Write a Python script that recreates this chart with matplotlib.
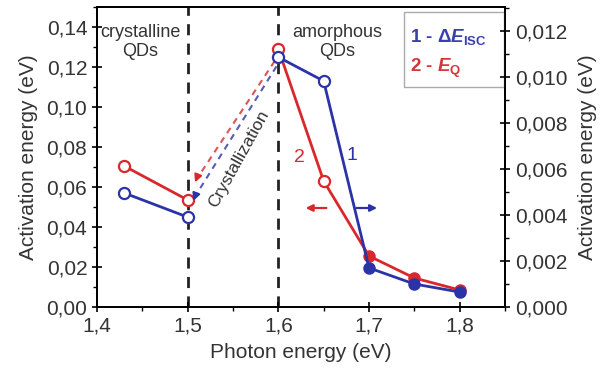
import matplotlib
matplotlib.use("Agg")
import matplotlib.pyplot as plt
import matplotlib.ticker as mticker
from matplotlib.patches import Rectangle

plt.rcParams["font.family"] = ["Liberation Sans", "DejaVu Sans"]
plt.rcParams["mathtext.fontset"] = "custom"
plt.rcParams["mathtext.rm"] = "Liberation Sans:bold"
plt.rcParams["mathtext.it"] = "Liberation Sans:bold:italic"

# data
photon_energy = [1.43, 1.50, 1.60, 1.65, 1.70, 1.75, 1.80]
e_q = [0.0705, 0.0535, 0.129, 0.063, 0.0255, 0.0145, 0.0085]        # left axis, red (2)
de_isc = [0.00496, 0.00391, 0.01087, 0.00983, 0.0017, 0.0010, 0.00065]  # right axis, blue (1)
n_cryst = 2  # crystalline points (1.43, 1.5); rest amorphous
n_open = 4   # first four points drawn as open circles

RED = "#d8282c"
BLUE = "#2c33a6"


def comma(fmt):
    return mticker.FuncFormatter(lambda v, pos: format(v, fmt).replace(".", ","))


def draw_series(a, x, y, color):
    a.plot(x[:n_cryst], y[:n_cryst], color=color, lw=2, zorder=3)
    a.plot(x[n_cryst:], y[n_cryst:], color=color, lw=2, zorder=3)
    a.plot(x[:n_open], y[:n_open], "o", ms=8, mfc="white", mec=color, mew=1.6, zorder=4)
    a.plot(x[n_open:], y[n_open:], "o", ms=8, mfc=color, mec=color, zorder=4)


fig = plt.figure(figsize=(6.04, 3.79), dpi=100)
ax = fig.add_axes([0.1606, 0.19, 0.6755, 0.7915])
ax2 = ax.twinx()

ax.set_xlim(1.4, 1.85)
ax.set_ylim(0, 0.15)
ax2.set_ylim(0, 0.01305)

# vertical phase boundaries
for xv in (1.5, 1.6):
    ax.axvline(xv, color="#222222", lw=2, ls=(0, (4, 3)), zorder=1)

draw_series(ax, photon_energy, e_q, RED)
draw_series(ax2, photon_energy, de_isc, BLUE)

# crystallization arrows (dashed, from 1.6 back to 1.5)
red_end = (1.507, 0.061)
blue_end = (1.505, 0.0045)
ax.plot([photon_energy[2] - 0.004, red_end[0] + 0.003], [e_q[2] - 0.006, red_end[1] + 0.003],
        color=RED, lw=1.5, ls=(0, (3, 2.5)), alpha=0.8, zorder=2)
ax.annotate("", xy=red_end, xytext=(red_end[0] + 0.004, red_end[1] + 0.0045),
            arrowprops=dict(arrowstyle="-|>", color=RED, lw=1.5, mutation_scale=11))
ax2.plot([photon_energy[2] - 0.002, blue_end[0] + 0.003], [de_isc[2] - 0.0004, blue_end[1] + 0.0003],
         color=BLUE, lw=1.5, ls=(0, (3, 2.5)), alpha=0.8, zorder=2)
ax2.annotate("", xy=blue_end, xytext=(blue_end[0] + 0.004, blue_end[1] + 0.0004),
             arrowprops=dict(arrowstyle="-|>", color=BLUE, lw=1.5, mutation_scale=11))

ax.text(1.556, 0.074, "Crystallization", rotation=61, ha="center", va="center",
        fontsize=12.5, color="#333333")

# axis indicator arrows
ax.annotate("", xy=(1.627, 0.0495), xytext=(1.656, 0.0495),
            arrowprops=dict(arrowstyle="-|>", color=RED, lw=1.6, mutation_scale=10))
ax.annotate("", xy=(1.712, 0.0495), xytext=(1.683, 0.0495),
            arrowprops=dict(arrowstyle="-|>", color=BLUE, lw=1.6, mutation_scale=10))

ax.text(1.623, 0.075, "2", color=RED, fontsize=14, ha="center", va="center")
ax2.text(1.681, 0.0066, "1", color=BLUE, fontsize=14, ha="center", va="center")

ax.text(1.448, 0.1325, "crystalline\nQDs", ha="center", va="center", fontsize=13,
        color="#333333", linespacing=1.15)
ax.text(1.665, 0.1325, "amorphous\nQDs", ha="center", va="center", fontsize=13,
        color="#333333", linespacing=1.15)

# legend box
ax.add_patch(Rectangle((0.752, 0.733), 0.245, 0.25, transform=ax.transAxes,
                       facecolor="white", edgecolor="#aaaaaa", lw=1, zorder=5))
ax.text(0.768, 0.9, r"1 - $\Delta E_{\rm ISC}$", transform=ax.transAxes, color="#3a3fae",
        fontsize=13.5, fontweight="bold", va="center", zorder=6)
ax.text(0.768, 0.795, r"2 - $E_{\rm Q}$", transform=ax.transAxes, color="#d0383c",
        fontsize=13.5, fontweight="bold", va="center", zorder=6)

# ticks and labels
ax.xaxis.set_major_locator(mticker.MultipleLocator(0.1))
ax.xaxis.set_minor_locator(mticker.MultipleLocator(0.05))
ax.yaxis.set_major_locator(mticker.MultipleLocator(0.02))
ax.yaxis.set_minor_locator(mticker.MultipleLocator(0.01))
ax2.yaxis.set_major_locator(mticker.MultipleLocator(0.002))
ax2.yaxis.set_minor_locator(mticker.MultipleLocator(0.001))
ax.xaxis.set_major_formatter(comma(".1f"))
ax.yaxis.set_major_formatter(comma(".2f"))
ax2.yaxis.set_major_formatter(comma(".3f"))

for a in (ax, ax2):
    a.tick_params(which="major", direction="inout", length=7, width=1.2, labelsize=15,
                  labelcolor="#333333")
    a.tick_params(which="minor", direction="out", length=3, width=1)
    for s in a.spines.values():
        s.set_linewidth(1.3)
ax.tick_params(axis="x", pad=3)

ax.set_xlabel("Photon energy (eV)", fontsize=15, color="#333333", labelpad=6)
ax.set_ylabel("Activation energy (eV)", fontsize=15, color="#333333", labelpad=6)
ax2.set_ylabel("Activation energy (eV)", fontsize=15, color="#333333", labelpad=8)

fig.savefig("out.png", dpi=100)
